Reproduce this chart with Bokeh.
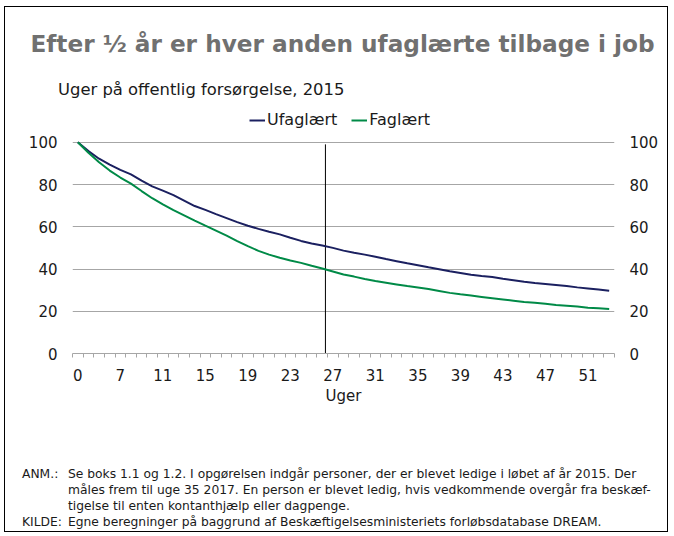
from bokeh.plotting import figure
from bokeh.layouts import column
from bokeh.models import Range1d, FixedTicker, LinearAxis, Legend, LegendItem, Div
from bokeh.embed import file_html
from bokeh.resources import INLINE

# ---- data ----
weeks = ["0", "4", "5", "6", "7", "8", "9", "10", "11", "12", "13", "14", "15", "16", "17",
         "18", "19", "20", "21", "22", "23", "24", "25", "26", "27", "28", "29", "30", "31",
         "32", "33", "34", "35", "36", "37", "38", "39", "40", "41", "42", "43", "44", "45",
         "46", "47", "48", "49", "50", "51", "52", "53"]
ufaglaert = [100, 95.8, 92.2, 89.4, 86.9, 84.8, 81.8, 79.1, 77.1, 75.0, 72.4, 69.8, 68.0,
             66.0, 64.1, 62.2, 60.5, 59.0, 57.6, 56.4, 54.8, 53.3, 52.1, 51.1, 50.0, 48.7,
             47.7, 46.8, 45.8, 44.7, 43.7, 42.7, 41.8, 40.8, 39.9, 38.9, 38.1, 37.3, 36.7,
             36.2, 35.4, 34.7, 34.0, 33.4, 32.9, 32.4, 31.9, 31.3, 30.8, 30.3, 29.7]
faglaert = [100, 95.0, 90.5, 86.6, 83.3, 80.4, 76.9, 73.5, 70.6, 67.9, 65.4, 62.9, 60.5,
            58.2, 55.8, 53.2, 50.8, 48.6, 46.8, 45.3, 44.0, 42.9, 41.5, 40.2, 38.8, 37.4,
            36.4, 35.3, 34.3, 33.5, 32.7, 31.9, 31.2, 30.5, 29.6, 28.7, 28.0, 27.4, 26.8,
            26.2, 25.6, 25.0, 24.4, 24.0, 23.5, 23.0, 22.6, 22.2, 21.7, 21.4, 21.1]
y_ticks = [0, 20, 40, 60, 80, 100]
half_year_week = "26"

title_text = "Efter ½ år er hver anden ufaglærte tilbage i job"
subtitle_text = "Uger på offentlig forsørgelse, 2015"
x_label = "Uger"
note_heads = ["ANM.:", "", "", "KILDE:"]
note_bodies = [
    "Se boks 1.1 og 1.2. I opgørelsen indgår personer, der er blevet ledige i løbet af år 2015. Der",
    "måles frem til uge 35 2017. En person er blevet ledig, hvis vedkommende overgår fra beskæf-",
    "tigelse til enten kontanthjælp eller dagpenge.",
    "Egne beregninger på baggrund af Beskæftigelsesministeriets forløbsdatabase DREAM.",
]

NAVY = "#1b2060"
GREEN = "#008a47"
GRID = "#a6a6a6"
TXT = "#1a1a1a"
FONT = "DejaVu Sans"

W = 662          # inner width (page x 5 .. 667)
H_HEAD = 101     # page y 7 .. 108
H_MAIN = 302     # page y 108 .. 410
H_FOOT = 121     # page y 410 .. 531

# ---- header (text block) ----
head_html = (
    f'<div style="position:relative;width:{W}px;height:{H_HEAD}px;font-family:\'{FONT}\';">'
    f'<div style="position:absolute;left:0;top:23px;width:675px;text-align:center;'
    f'white-space:nowrap;font-size:23.2px;line-height:28px;font-weight:bold;color:#707070;">'
    f'{title_text}</div>'
    f'<div style="position:absolute;left:53px;top:73px;white-space:nowrap;'
    f'font-size:16.4px;line-height:20px;color:{TXT};">{subtitle_text}</div>'
    '</div>'
)
head = Div(text=head_html, width=W, height=H_HEAD, margin=0)

# ---- main chart ----
n = len(weeks)
xs = list(range(n))
FRAME_H = 245
PX_PER_UNIT = 2.1125
p = figure(width=W, height=H_MAIN, output_backend="svg", toolbar_location=None,
           x_range=Range1d(-0.5, n - 0.5), y_range=Range1d(0, FRAME_H / PX_PER_UNIT),
           min_border_left=67, min_border_right=53, min_border_top=0,
           min_border_bottom=H_MAIN - FRAME_H, y_axis_location=None, margin=0)
p.background_fill_color = "white"
p.border_fill_color = "white"
p.outline_line_color = None

p.xgrid.visible = False
p.ygrid.ticker = FixedTicker(ticks=[20, 40, 60, 80, 100])
p.ygrid.grid_line_color = GRID
p.ygrid.grid_line_width = 1

xa = p.xaxis[0]
label_idx = list(range(0, n, 4))
xa.ticker = FixedTicker(ticks=label_idx, minor_ticks=[i - 0.5 for i in range(n + 1)])
xa.major_label_overrides = {i: weeks[i] for i in label_idx}
xa.major_tick_line_color = None
xa.major_tick_out = 0
xa.major_tick_in = 0
xa.minor_tick_line_color = GRID
xa.minor_tick_out = 4
xa.minor_tick_in = 0
xa.axis_line_color = GRID
xa.major_label_text_font = FONT
xa.major_label_text_font_size = "15px"
xa.major_label_text_color = TXT
xa.major_label_standoff = 11
xa.axis_label = x_label
xa.axis_label_text_font = FONT
xa.axis_label_text_font_size = "15px"
xa.axis_label_text_font_style = "normal"
xa.axis_label_text_color = TXT
xa.axis_label_standoff = 3

for side in ("left", "right"):
    ax = LinearAxis(ticker=FixedTicker(ticks=y_ticks))
    ax.axis_line_color = None
    ax.major_tick_line_color = None
    ax.minor_tick_line_color = None
    ax.major_tick_out = 0
    ax.major_label_standoff = 15
    ax.major_label_text_font = FONT
    ax.major_label_text_font_size = "15px"
    ax.major_label_text_color = TXT
    p.add_layout(ax, side)

vx = weeks.index(half_year_week) + 0.3
p.segment(x0=[vx], y0=[0], x1=[vx], y1=[99], line_color="black", line_width=1)

r1 = p.line(xs, ufaglaert, line_color=NAVY, line_width=2)
r2 = p.line(xs, faglaert, line_color=GREEN, line_width=2)

legend = Legend(items=[LegendItem(label="Ufaglært", renderers=[r1]),
                       LegendItem(label="Faglært", renderers=[r2])],
                orientation="horizontal", location=(177, FRAME_H - 21),
                padding=0, margin=0, spacing=14, label_standoff=2,
                glyph_width=16, glyph_height=14,
                label_text_font=FONT, label_text_font_size="16px",
                label_text_color=TXT, background_fill_alpha=0,
                border_line_color=None)
p.add_layout(legend, "center")

# ---- footer (notes) ----
rows = []
for k in range(len(note_bodies)):
    top = 56 + 16 * k
    if note_heads[k]:
        rows.append(f'<div style="position:absolute;left:17px;top:{top}px;white-space:nowrap;">'
                    f'{note_heads[k]}</div>')
    rows.append(f'<div style="position:absolute;left:63px;top:{top}px;white-space:nowrap;">'
                f'{note_bodies[k]}</div>')
foot_html = (f'<div style="position:relative;width:{W}px;height:{H_FOOT}px;'
             f'font-family:\'{FONT}\';font-size:12.3px;line-height:16px;color:{TXT};">'
             + "".join(rows) + '</div>')
foot = Div(text=foot_html, width=W, height=H_FOOT, margin=0)

layout = column(head, p, foot, spacing=0,
                styles={"border": "1px solid #000000", "margin-left": "4px",
                        "margin-top": "6px", "background-color": "white"})

open("out.html", "w").write(file_html(layout, INLINE))
